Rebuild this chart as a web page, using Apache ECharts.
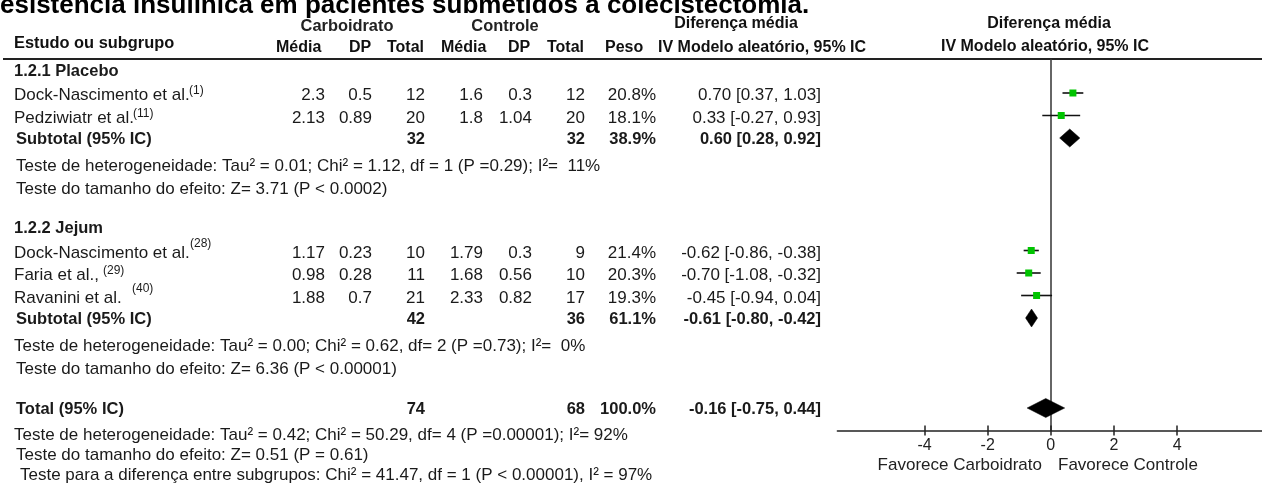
<!DOCTYPE html>
<html><head><meta charset="utf-8">
<script src="https://cdn.jsdelivr.net/npm/echarts@6/dist/echarts.min.js"></script>
<style>html,body{margin:0;padding:0;background:#fff}#c{width:1262px;height:484px}</style>
</head><body><div id="c"></div>
<script>
// ---------- data ----------
const studies = ['Dock-Nascimento et al.', 'Pedziwiatr et al.', 'Dock-Nascimento et al.', 'Faria et al.,', 'Ravanini et al.'];
const refs = ['(1)', '(11)', '(28)', '(29)', '(40)'];
const carbMean = [2.3, 2.13, 1.17, 0.98, 1.88];
const carbSD = [0.5, 0.89, 0.23, 0.28, 0.7];
const carbN = [12, 20, 10, 11, 21];
const ctrlMean = [1.6, 1.8, 1.79, 1.68, 2.33];
const ctrlSD = [0.3, 1.04, 0.3, 0.56, 0.82];
const ctrlN = [12, 20, 9, 10, 17];
const weights = ['20.8%', '18.1%', '21.4%', '20.3%', '19.3%'];
const md = [0.70, 0.33, -0.62, -0.70, -0.45];
const ciLo = [0.37, -0.27, -0.86, -1.08, -0.94];
const ciHi = [1.03, 0.93, -0.38, -0.32, 0.04];
const studyRow = [1, 2, 8, 9, 10];

const subNames = ['1.2.1 Placebo', '1.2.2 Jejum'];
const subHeadRow = [0, 7];
const subRow = [3, 11];
const subCarbN = [32, 42];
const subCtrlN = [32, 36];
const subWeight = ['38.9%', '61.1%'];
const subMd = [0.60, -0.61];
const subLo = [0.28, -0.80];
const subHi = [0.92, -0.42];

const totalRow = 15;
const totalCarbN = 74;
const totalCtrlN = 68;
const totalWeight = '100.0%';
const totalMd = -0.16;
const totalLo = -0.75;
const totalHi = 0.44;

const tickValues = [-4, -2, 0, 2, 4];

const testLines = [
  'Teste de heterogeneidade: Tau\u00b2 = 0.01; Chi\u00b2 = 1.12, df = 1 (P =0.29); I\u00b2=  11%',
  'Teste do tamanho do efeito: Z= 3.71 (P < 0.0002)',
  'Teste de heterogeneidade: Tau\u00b2 = 0.00; Chi\u00b2 = 0.62, df= 2 (P =0.73); I\u00b2=  0%',
  'Teste do tamanho do efeito: Z= 6.36 (P < 0.00001)',
  'Teste de heterogeneidade: Tau\u00b2 = 0.42; Chi\u00b2 = 50.29, df= 4 (P =0.00001); I\u00b2= 92%',
  'Teste do tamanho do efeito: Z= 0.51 (P = 0.61)',
  'Teste para a diferença entre subgrupos: Chi\u00b2 = 41.47, df = 1 (P < 0.00001), I\u00b2 = 97%'
];

// ---------- layout ----------
const FF = "'Liberation Sans', Arial, sans-serif";
const TXT = '#1a1a1a';
const REG = 17;
const rowPx = r => 70.5 + 22.5 * r;
const col = { cMean: 325, cSD: 372, cN: 425, tMean: 483, tSD: 532, tN: 585, w: 656, ci: 821 };
const testPos = [[16, 166], [16, 189], [14, 346], [16, 369], [14, 435], [16, 455], [20, 475]];
const supPos = [[189, 91], [133, 114], [190, 244], [103, 271], [132, 289]];

const g = [];
function t(text, x, y, o) {
  o = o || {};
  g.push({
    type: 'text', silent: true,
    style: {
      text: String(text), x: x, y: y,
      fontFamily: FF, fontSize: o.size || REG, fontWeight: o.bold ? 'bold' : 'normal',
      fill: o.color || TXT, align: o.align || 'left', verticalAlign: 'middle'
    }
  });
}
const fmt = v => v.toFixed(2);
const ciText = (m, l, h) => fmt(m) + ' [' + fmt(l) + ', ' + fmt(h) + ']';

// title
t('esistência insulínica em pacientes submetidos à colecistectomia.', 0, 5.5, { size: 26, bold: true, color: '#000' });
// header row 1
t('Carboidrato', 347, 26, { size: 16.4, bold: true, align: 'center', color: '#222' });
t('Controle', 505, 26, { size: 16.4, bold: true, align: 'center', color: '#222' });
t('Diferença média', 736, 24, { size: 16, bold: true, align: 'center', color: '#111' });
t('Diferença média', 1049, 23.5, { size: 16, bold: true, align: 'center', color: '#111' });
// header row 2
t('Estudo ou subgrupo', 14, 43.5, { size: 16.4, bold: true, color: '#111' });
[['Média', 276], ['DP', 349], ['Total', 387], ['Média', 441], ['DP', 508], ['Total', 547], ['Peso', 605], ['IV Modelo aleatório, 95% IC', 658]]
  .forEach(h => t(h[0], h[1], 48, { size: 16, bold: true, color: '#111' }));
t('IV Modelo aleatório, 95% IC', 1045, 47, { size: 16, bold: true, align: 'center', color: '#111' });
// header rule
g.push({ type: 'line', silent: true, shape: { x1: 3, y1: 59, x2: 1262, y2: 59 }, style: { stroke: '#222', lineWidth: 2 } });

// subgroup headings
subNames.forEach((n, i) => t(n, 14, rowPx(subHeadRow[i]) + 0.5, { bold: true, size: 16.5 }));
// studies
studies.forEach((s, i) => {
  const y = rowPx(studyRow[i]) + 2.5;
  t(s, 14, y);
  t(refs[i], supPos[i][0], supPos[i][1], { size: 12 });
  t(carbMean[i], col.cMean, y, { align: 'right' });
  t(carbSD[i], col.cSD, y, { align: 'right' });
  t(carbN[i], col.cN, y, { align: 'right' });
  t(ctrlMean[i], col.tMean, y, { align: 'right' });
  t(ctrlSD[i], col.tSD, y, { align: 'right' });
  t(ctrlN[i], col.tN, y, { align: 'right' });
  t(weights[i], col.w, y, { align: 'right' });
  t(ciText(md[i], ciLo[i], ciHi[i]), col.ci, y, { align: 'right' });
});
// subtotals
subRow.forEach((r, i) => {
  const y = rowPx(r) + 1;
  t('Subtotal (95% IC)', 16, y, { bold: true, size: 16.5 });
  t(subCarbN[i], col.cN, y, { align: 'right', bold: true, size: 16.5 });
  t(subCtrlN[i], col.tN, y, { align: 'right', bold: true, size: 16.5 });
  t(subWeight[i], col.w, y, { align: 'right', bold: true, size: 16.5 });
  t(ciText(subMd[i], subLo[i], subHi[i]), col.ci, y, { align: 'right', bold: true, size: 16.5 });
});
// total
(function () {
  const y = rowPx(totalRow) + 1;
  t('Total (95% IC)', 16, y, { bold: true, size: 16.5 });
  t(totalCarbN, col.cN, y, { align: 'right', bold: true, size: 16.5 });
  t(totalCtrlN, col.tN, y, { align: 'right', bold: true, size: 16.5 });
  t(totalWeight, col.w, y, { align: 'right', bold: true, size: 16.5 });
  t(ciText(totalMd, totalLo, totalHi), col.ci, y, { align: 'right', bold: true, size: 16.5 });
})();
// tests
testLines.forEach((s, i) => t(s, testPos[i][0], testPos[i][1]));
// favours
t('Favorece Carboidrato', 1042, 465.5, { align: 'right', color: '#222' });
t('Favorece Controle', 1058, 465.5, { color: '#222' });

// ---------- chart ----------
const chart = echarts.init(document.getElementById('c'), null, { renderer: 'canvas' });

function diamondItem(halfH) {
  return function (params, api) {
    const m = api.value(0), l = api.value(1), h = api.value(2), r = api.value(3);
    const pl = api.coord([l, r]), pm = api.coord([m, r]), ph = api.coord([h, r]);
    return {
      type: 'polygon',
      shape: { points: [[pl[0], pl[1]], [pm[0], pm[1] - halfH], [ph[0], ph[1]], [pm[0], pm[1] + halfH]] },
      style: { fill: '#000', stroke: '#000', lineWidth: 0.5 }
    };
  };
}

chart.setOption({
  animation: false,
  backgroundColor: '#fff',
  grid: { left: 837.4, top: 59.25, width: 424.6, height: 371.25, containLabel: false, outerBoundsMode: 'none' },
  xAxis: [{
    type: 'value', min: -6.76, max: 6.69, position: 'bottom',
    axisLine: { show: true, onZero: false, lineStyle: { color: '#222', width: 1.5 } },
    axisTick: { show: true, length: 5, customValues: tickValues, lineStyle: { color: '#222', width: 1.5 } },
    axisLabel: { show: true, customValues: tickValues, fontSize: 16, fontFamily: FF, color: '#222', margin: 7 },
    splitLine: { show: false }
  }, {
    type: 'value', min: -6.76, max: 6.69, position: 'bottom', offset: 0,
    axisLine: { show: false, onZero: false },
    axisTick: { show: true, inside: true, length: 5, customValues: tickValues, lineStyle: { color: '#222', width: 1.5 } },
    axisLabel: { show: false },
    splitLine: { show: false }
  }],
  yAxis: {
    type: 'value', inverse: true, min: -0.5, max: 16,
    axisLine: { show: true, onZero: true, onZeroAxisIndex: 0, lineStyle: { color: '#333', width: 1.5 } },
    axisTick: { show: false }, axisLabel: { show: false }, splitLine: { show: false }
  },
  series: [{
    type: 'custom', clip: false, z: 3,
    data: md.map((v, i) => [ciLo[i], ciHi[i], studyRow[i]]),
    renderItem: function (params, api) {
      const a = api.coord([api.value(0), api.value(2)]);
      const b = api.coord([api.value(1), api.value(2)]);
      return { type: 'line', shape: { x1: a[0], y1: a[1], x2: b[0], y2: b[1] }, style: { stroke: '#111', lineWidth: 1.6 } };
    }
  }, {
    type: 'scatter', z: 4, symbol: 'rect', symbolSize: 7,
    itemStyle: { color: '#00c400', opacity: 1 },
    data: md.map((v, i) => [v, studyRow[i]])
  }, {
    type: 'custom', clip: false, z: 4,
    data: subMd.map((v, i) => [v, subLo[i], subHi[i], subRow[i]]),
    renderItem: diamondItem(9)
  }, {
    type: 'custom', clip: false, z: 4,
    data: [[totalMd, totalLo, totalHi, totalRow]],
    renderItem: diamondItem(9.5)
  }],
  graphic: g
});
</script>
</body></html>
